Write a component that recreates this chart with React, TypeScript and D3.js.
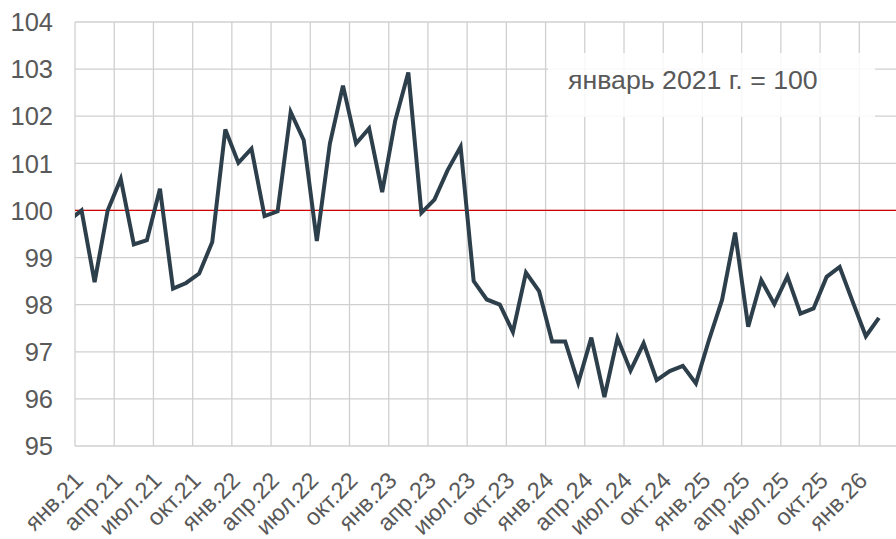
import React from "react";
import * as d3 from "d3";

const monthNames = ["янв", "фев", "мар", "апр", "май", "июн", "июл", "авг", "сен", "окт", "ноя", "дек"];

// Values from Dec 2020 (clipped at left edge) through Feb 2026
const values: number[] = [
  99.78, // дек.20
  100.0, 98.48, 100.0, 100.67, 99.28, 99.37, 100.46, 98.34, 98.46, 98.66, 99.33, 101.72, // 2021
  101.01, 101.31, 99.88, 99.98, 102.09, 101.49, 99.35, 101.42, 102.65, 101.42, 101.74, 100.39, // 2022
  101.91, 102.93, 99.95, 100.23, 100.85, 101.35, 98.5, 98.11, 98.0, 97.42, 98.68, 98.29, // 2023
  97.22, 97.22, 96.34, 97.3, 96.04, 97.29, 96.6, 97.18, 96.4, 96.59, 96.7, 96.33, // 2024
  97.25, 98.1, 99.53, 97.53, 98.52, 98.01, 98.6, 97.81, 97.92, 98.59, 98.8, 98.06, // 2025
  97.33, 97.72, // 2026
];
const startIndex = -1; // first value is Dec 2020, index relative to Jan 2021

const yTicks = [95, 96, 97, 98, 99, 100, 101, 102, 103, 104];
const tickEvery = 3;
const numTickCategories = 61; // Jan 21 .. Jan 26 labelled every 3 months
const baseValue = 100;
const annotation = "январь 2021 г. = 100";

const W = 896;
const H = 539;
const left = 75;
const top = 22;
const bottom = 446;

export default function App() {
  const x = d3.scaleLinear().domain([0, 60]).range([left, 859.3]);
  const right = x(63);
  const y = d3.scaleLinear().domain([95, 104]).range([bottom, top]);

  const pts = values.map((v, k) => ({ i: startIndex + k, v }));
  const line = d3
    .line<{ i: number; v: number }>()
    .x((d) => x(d.i + 0.5))
    .y((d) => y(d.v));

  const ticks: number[] = [];
  for (let i = 0; i < numTickCategories; i += tickEvery) ticks.push(i);

  const label = (i: number) => {
    const m = i % 12;
    const yr = 21 + Math.floor(i / 12);
    return `${monthNames[m]}.${yr}`;
  };

  const font = "'Liberation Sans', Arial, sans-serif";
  const textColor = "#595959";
  const gridColor = "#d0d0d0";

  return (
    <svg width={W} height={H} style={{ position: "absolute", left: 0, top: 0 }} fontFamily={font}>
      <defs>
        <clipPath id="plot">
          <rect x={left} y={top - 5} width={right - left} height={bottom - top + 10} />
        </clipPath>
      </defs>
      <rect width={W} height={H} fill="#fff" />
      {/* horizontal grid */}
      {yTicks.map((t) => (
        <line key={"h" + t} x1={left} x2={right} y1={y(t)} y2={y(t)} stroke={gridColor} strokeWidth={1.3} />
      ))}
      {/* vertical grid */}
      {ticks.map((i) => (
        <line key={"v" + i} x1={x(i)} x2={x(i)} y1={top} y2={bottom} stroke={gridColor} strokeWidth={1.3} />
      ))}
      {/* annotation box */}
      <rect x={548} y={53} width={327} height={64} fill="#fff" fillOpacity={0.85} />
      <text x={568} y={89} fontSize={26.7} fill={textColor}>
        {annotation}
      </text>
      {/* base line */}
      <line x1={left} x2={right} y1={y(baseValue)} y2={y(baseValue)} stroke="#d40000" strokeWidth={1.2} />
      {/* data line */}
      <g clipPath="url(#plot)">
        <path d={line(pts) || ""} fill="none" stroke="#2e3f4c" strokeWidth={4} strokeLinejoin="miter" />
      </g>
      {/* y labels */}
      {yTicks.map((t) => (
        <text key={"yl" + t} x={53} y={y(t)} dy="0.36em" textAnchor="end" fontSize={25.5} fill={textColor}>
          {t}
        </text>
      ))}
      {/* x labels */}
      {ticks.map((i) => {
        const ax = x(i + 0.5) + 3;
        const ay = 482;
        return (
          <text
            key={"xl" + i}
            x={ax}
            y={ay}
            textAnchor="end"
            fontSize={23.5}
            fill={textColor}
            transform={`rotate(-45 ${ax} ${ay})`}
          >
            {label(i)}
          </text>
        );
      })}
    </svg>
  );
}
